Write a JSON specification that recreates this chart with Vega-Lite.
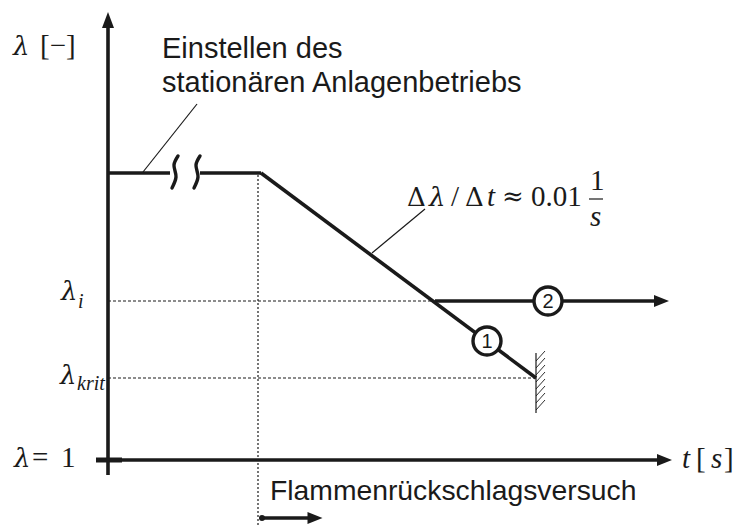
{
  "$schema": "https://vega.github.io/schema/vega-lite/v6.json",
  "width": 735,
  "height": 527,
  "padding": 0,
  "autosize": {"type": "none"},
  "background": "white",
  "config": {"view": {"stroke": null}},
  "datasets": {
    "thick": [
      {"part": "lambda axis", "x": 108, "y": 28, "x2": 108, "y2": 475},
      {"part": "time axis", "x": 96, "y": 460, "x2": 660, "y2": 460},
      {"part": "steady state a", "x": 108, "y": 173, "x2": 170, "y2": 173},
      {"part": "steady state b", "x": 200, "y": 173, "x2": 261, "y2": 173},
      {"part": "ramp (1)", "x": 261, "y": 173, "x2": 536, "y2": 378},
      {"part": "hold (2)", "x": 435, "y": 301, "x2": 656, "y2": 301},
      {"part": "test arrow", "x": 261, "y": 518, "x2": 310, "y2": 518}
    ],
    "tick": [
      {"part": "lambda = 1 tick", "x": 96, "y": 460, "x2": 122, "y2": 460}
    ],
    "thin": [
      {"part": "leader steady", "x": 143, "y": 172, "x2": 197, "y2": 104},
      {"part": "leader slope", "x": 372, "y": 253, "x2": 425, "y2": 209},
      {"part": "fraction bar", "x": 589, "y": 199, "x2": 603, "y2": 199},
      {"part": "wall", "x": 536, "y": 353, "x2": 536, "y2": 413}
    ],
    "hatch": [
      {"x": 536, "y": 361, "x2": 545, "y2": 351},
      {"x": 536, "y": 368, "x2": 545, "y2": 358},
      {"x": 536, "y": 375, "x2": 545, "y2": 365},
      {"x": 536, "y": 382, "x2": 545, "y2": 372},
      {"x": 536, "y": 389, "x2": 545, "y2": 379},
      {"x": 536, "y": 396, "x2": 545, "y2": 386},
      {"x": 536, "y": 403, "x2": 545, "y2": 393},
      {"x": 536, "y": 410, "x2": 545, "y2": 400}
    ],
    "dashed": [
      {"part": "lambda_i", "x": 108, "y": 301, "x2": 435, "y2": 301},
      {"part": "lambda_krit", "x": 108, "y": 378, "x2": 536, "y2": 378}
    ],
    "dotted": [
      {"part": "test start", "x": 258, "y": 175, "x2": 258, "y2": 527}
    ],
    "squiggle": [
      {"id": "a", "o": 0, "x": 178, "y": 156},
      {"id": "a", "o": 1, "x": 174, "y": 165},
      {"id": "a", "o": 2, "x": 176, "y": 177},
      {"id": "a", "o": 3, "x": 172, "y": 188},
      {"id": "b", "o": 0, "x": 200, "y": 156},
      {"id": "b", "o": 1, "x": 196, "y": 165},
      {"id": "b", "o": 2, "x": 198, "y": 177},
      {"id": "b", "o": 3, "x": 194, "y": 188}
    ],
    "headUp": [{"x": 108, "y": 20}],
    "headRight": [
      {"x": 664.5, "y": 460},
      {"x": 661.5, "y": 301},
      {"x": 315, "y": 518}
    ],
    "dot": [{"x": 262, "y": 518}],
    "circles": [
      {"label": "1", "x": 487, "y": 341},
      {"label": "2", "x": 548, "y": 301}
    ],
    "sansTop": [
      {"label": "Einstellen des", "x": 162, "y": 58},
      {"label": "stationären Anlagenbetriebs", "x": 162, "y": 92}
    ],
    "sansBottom": [
      {"label": "Flammenrückschlagsversuch", "x": 270, "y": 500}
    ],
    "lambda": [
      {"label": "λ", "x": 13, "y": 55},
      {"label": "λ", "x": 61, "y": 300},
      {"label": "λ", "x": 60, "y": 384},
      {"label": "λ", "x": 14, "y": 467},
      {"label": "λ", "x": 429, "y": 206}
    ],
    "delta": [
      {"label": "Δ", "x": 407, "y": 206},
      {"label": "Δ", "x": 465, "y": 206}
    ],
    "serif": [
      {"label": "[−]", "x": 40, "y": 55},
      {"label": "=", "x": 32, "y": 467},
      {"label": "1", "x": 61, "y": 467},
      {"label": "[", "x": 696, "y": 468},
      {"label": "]", "x": 724, "y": 468},
      {"label": "/", "x": 451, "y": 206},
      {"label": "0.01", "x": 531, "y": 206},
      {"label": "1", "x": 590, "y": 190}
    ],
    "approx": [
      {"label": "≈", "x": 502, "y": 205}
    ],
    "serifItalic": [
      {"label": "t", "x": 682, "y": 468},
      {"label": "s", "x": 711, "y": 468},
      {"label": "t", "x": 487, "y": 206},
      {"label": "s", "x": 590, "y": 226}
    ],
    "subscript": [
      {"label": "i", "x": 78, "y": 308},
      {"label": "krit", "x": 77, "y": 390}
    ]
  },
  "encoding": {
    "x": {"field": "x", "type": "quantitative", "axis": null, "scale": {"domain": [0, 735], "nice": false, "zero": false}},
    "y": {"field": "y", "type": "quantitative", "axis": null, "scale": {"domain": [0, 527], "reverse": true, "nice": false, "zero": false}}
  },
  "layer": [
    {
      "data": {"name": "dashed"},
      "mark": {"type": "rule", "color": "#1a1a1a", "strokeWidth": 1.2, "strokeDash": [3, 2]},
      "encoding": {"x2": {"field": "x2"}, "y2": {"field": "y2"}}
    },
    {
      "data": {"name": "dotted"},
      "mark": {"type": "rule", "color": "#1a1a1a", "strokeWidth": 1.2, "strokeDash": [2, 2]},
      "encoding": {"x2": {"field": "x2"}, "y2": {"field": "y2"}}
    },
    {
      "data": {"name": "thin"},
      "mark": {"type": "rule", "color": "#1a1a1a", "strokeWidth": 1.2},
      "encoding": {"x2": {"field": "x2"}, "y2": {"field": "y2"}}
    },
    {
      "data": {"name": "hatch"},
      "mark": {"type": "rule", "color": "#1a1a1a", "strokeWidth": 0.9},
      "encoding": {"x2": {"field": "x2"}, "y2": {"field": "y2"}}
    },
    {
      "data": {"name": "thick"},
      "mark": {"type": "rule", "color": "#1a1a1a", "strokeWidth": 3.6},
      "encoding": {"x2": {"field": "x2"}, "y2": {"field": "y2"}}
    },
    {
      "data": {"name": "tick"},
      "mark": {"type": "rule", "color": "#1a1a1a", "strokeWidth": 5},
      "encoding": {"x2": {"field": "x2"}, "y2": {"field": "y2"}}
    },
    {
      "data": {"name": "squiggle"},
      "mark": {"type": "line", "color": "#1a1a1a", "strokeWidth": 3.4, "interpolate": "cardinal", "strokeCap": "round"},
      "encoding": {"detail": {"field": "id"}, "order": {"field": "o"}}
    },
    {
      "data": {"name": "headUp"},
      "mark": {"type": "point", "shape": "M0,-1L0.75,1L-0.75,1Z", "size": 256, "filled": true, "color": "#1a1a1a", "opacity": 1, "strokeWidth": 0}
    },
    {
      "data": {"name": "headRight"},
      "mark": {"type": "point", "shape": "M1,0L-1,0.8L-1,-0.8Z", "size": 225, "filled": true, "color": "#1a1a1a", "opacity": 1, "strokeWidth": 0}
    },
    {
      "data": {"name": "dot"},
      "mark": {"type": "point", "shape": "circle", "size": 36, "filled": true, "color": "#1a1a1a", "opacity": 1}
    },
    {
      "data": {"name": "circles"},
      "mark": {"type": "point", "shape": "circle", "size": 784, "filled": false, "fill": "white", "fillOpacity": 1, "stroke": "#1a1a1a", "strokeWidth": 3.4, "opacity": 1}
    },
    {
      "data": {"name": "circles"},
      "mark": {"type": "text", "font": "Liberation Sans", "fontSize": 20, "align": "center", "baseline": "middle", "dy": 1, "color": "#1a1a1a"},
      "encoding": {"text": {"field": "label"}}
    },
    {
      "data": {"name": "sansTop"},
      "mark": {"type": "text", "font": "Liberation Sans", "fontSize": 29, "align": "left", "baseline": "alphabetic", "color": "#1a1a1a"},
      "encoding": {"text": {"field": "label"}}
    },
    {
      "data": {"name": "sansBottom"},
      "mark": {"type": "text", "font": "Liberation Sans", "fontSize": 28.3, "align": "left", "baseline": "alphabetic", "color": "#1a1a1a"},
      "encoding": {"text": {"field": "label"}}
    },
    {
      "data": {"name": "lambda"},
      "mark": {"type": "text", "font": "DejaVu Serif", "fontStyle": "italic", "fontSize": 26, "align": "left", "baseline": "alphabetic", "color": "#1a1a1a"},
      "encoding": {"text": {"field": "label"}}
    },
    {
      "data": {"name": "delta"},
      "mark": {"type": "text", "font": "DejaVu Serif", "fontSize": 26, "align": "left", "baseline": "alphabetic", "color": "#1a1a1a"},
      "encoding": {"text": {"field": "label"}}
    },
    {
      "data": {"name": "approx"},
      "mark": {"type": "text", "font": "DejaVu Serif", "fontSize": 26, "align": "left", "baseline": "alphabetic", "color": "#1a1a1a"},
      "encoding": {"text": {"field": "label"}}
    },
    {
      "data": {"name": "serif"},
      "mark": {"type": "text", "font": "Liberation Serif", "fontSize": 29, "align": "left", "baseline": "alphabetic", "color": "#1a1a1a"},
      "encoding": {"text": {"field": "label"}}
    },
    {
      "data": {"name": "serifItalic"},
      "mark": {"type": "text", "font": "Liberation Serif", "fontStyle": "italic", "fontSize": 29, "align": "left", "baseline": "alphabetic", "color": "#1a1a1a"},
      "encoding": {"text": {"field": "label"}}
    },
    {
      "data": {"name": "subscript"},
      "mark": {"type": "text", "font": "Liberation Serif", "fontStyle": "italic", "fontSize": 20, "align": "left", "baseline": "alphabetic", "color": "#1a1a1a"},
      "encoding": {"text": {"field": "label"}}
    }
  ]
}
